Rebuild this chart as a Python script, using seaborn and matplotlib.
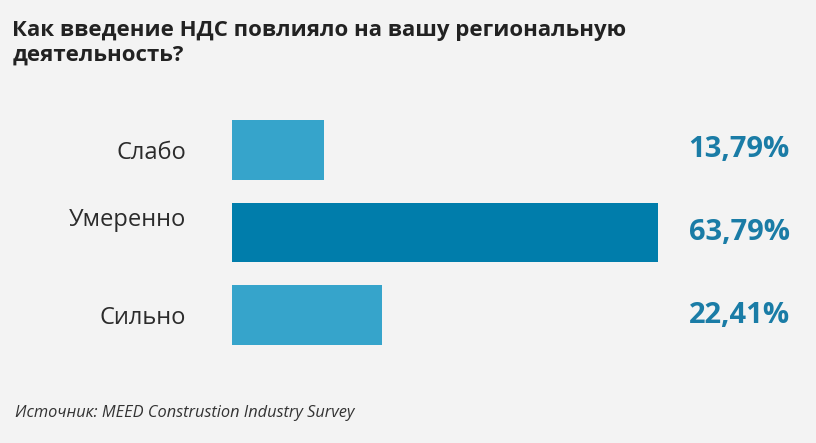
import matplotlib
matplotlib.use("Agg")
import matplotlib.pyplot as plt
import matplotlib.transforms as mtransforms
import pandas as pd
import seaborn as sns

# data
categories = ["Слабо", "Умеренно", "Сильно"]
values = [13.79, 63.79, 22.41]
value_labels = ["13,79%", "63,79%", "22,41%"]
bar_colors = ["#36a4cb", "#007dab", "#36a4cb"]

title = "Как введение НДС повлияло на вашу региональную\nдеятельность?"
source = "Источник: MEED Construstion Industry Survey"

df = pd.DataFrame({"category": categories, "value": values})

sns.set_style("white")
plt.rcParams['font.family'] = ['Open Sans', 'DejaVu Sans']

bg = "#f3f3f3"
fig = plt.figure(figsize=(8.16, 4.43), dpi=100, facecolor=bg)
ax = fig.add_axes([0.2843, 0.1953, 0.573, 0.5598], facecolor=bg)

sns.barplot(data=df, x="value", y="category", hue="category",
            palette=bar_colors, order=categories, width=0.72,
            legend=False, ax=ax, saturation=1, linewidth=0)

ax.set_xlim(0, 70)
ax.set_ylim(2.5, -0.5)
ax.set_xlabel("")
ax.set_ylabel("")
ax.set_xticks([])
for s in ax.spines.values():
    s.set_visible(False)
ax.tick_params(axis="y", length=0, pad=33, labelsize=17, labelcolor="#2b2b2b")

# the middle label sits a bit higher in the original
for lab in ax.get_yticklabels():
    if lab.get_text() == "Умеренно":
        lab.set_transform(lab.get_transform() +
                          mtransforms.ScaledTranslation(0, 0.15, fig.dpi_scale_trans))

# value labels at the right edge
trans = mtransforms.blended_transform_factory(fig.transFigure, ax.transData)
for i, lab in enumerate(value_labels):
    ax.text(0.968, i, lab, transform=trans, ha="right", va="center",
            fontsize=21, fontweight="bold", color="#1a7ca6")

fig.text(0.015, 0.955, title, ha="left", va="top", fontsize=16,
         fontweight="bold", color="#222222", linespacing=1.2)
fig.text(0.018, 0.068, source, ha="left", va="center", fontsize=11.8,
         fontstyle="italic", color="#333333")

fig.savefig("out.png", dpi=100, facecolor=bg)
